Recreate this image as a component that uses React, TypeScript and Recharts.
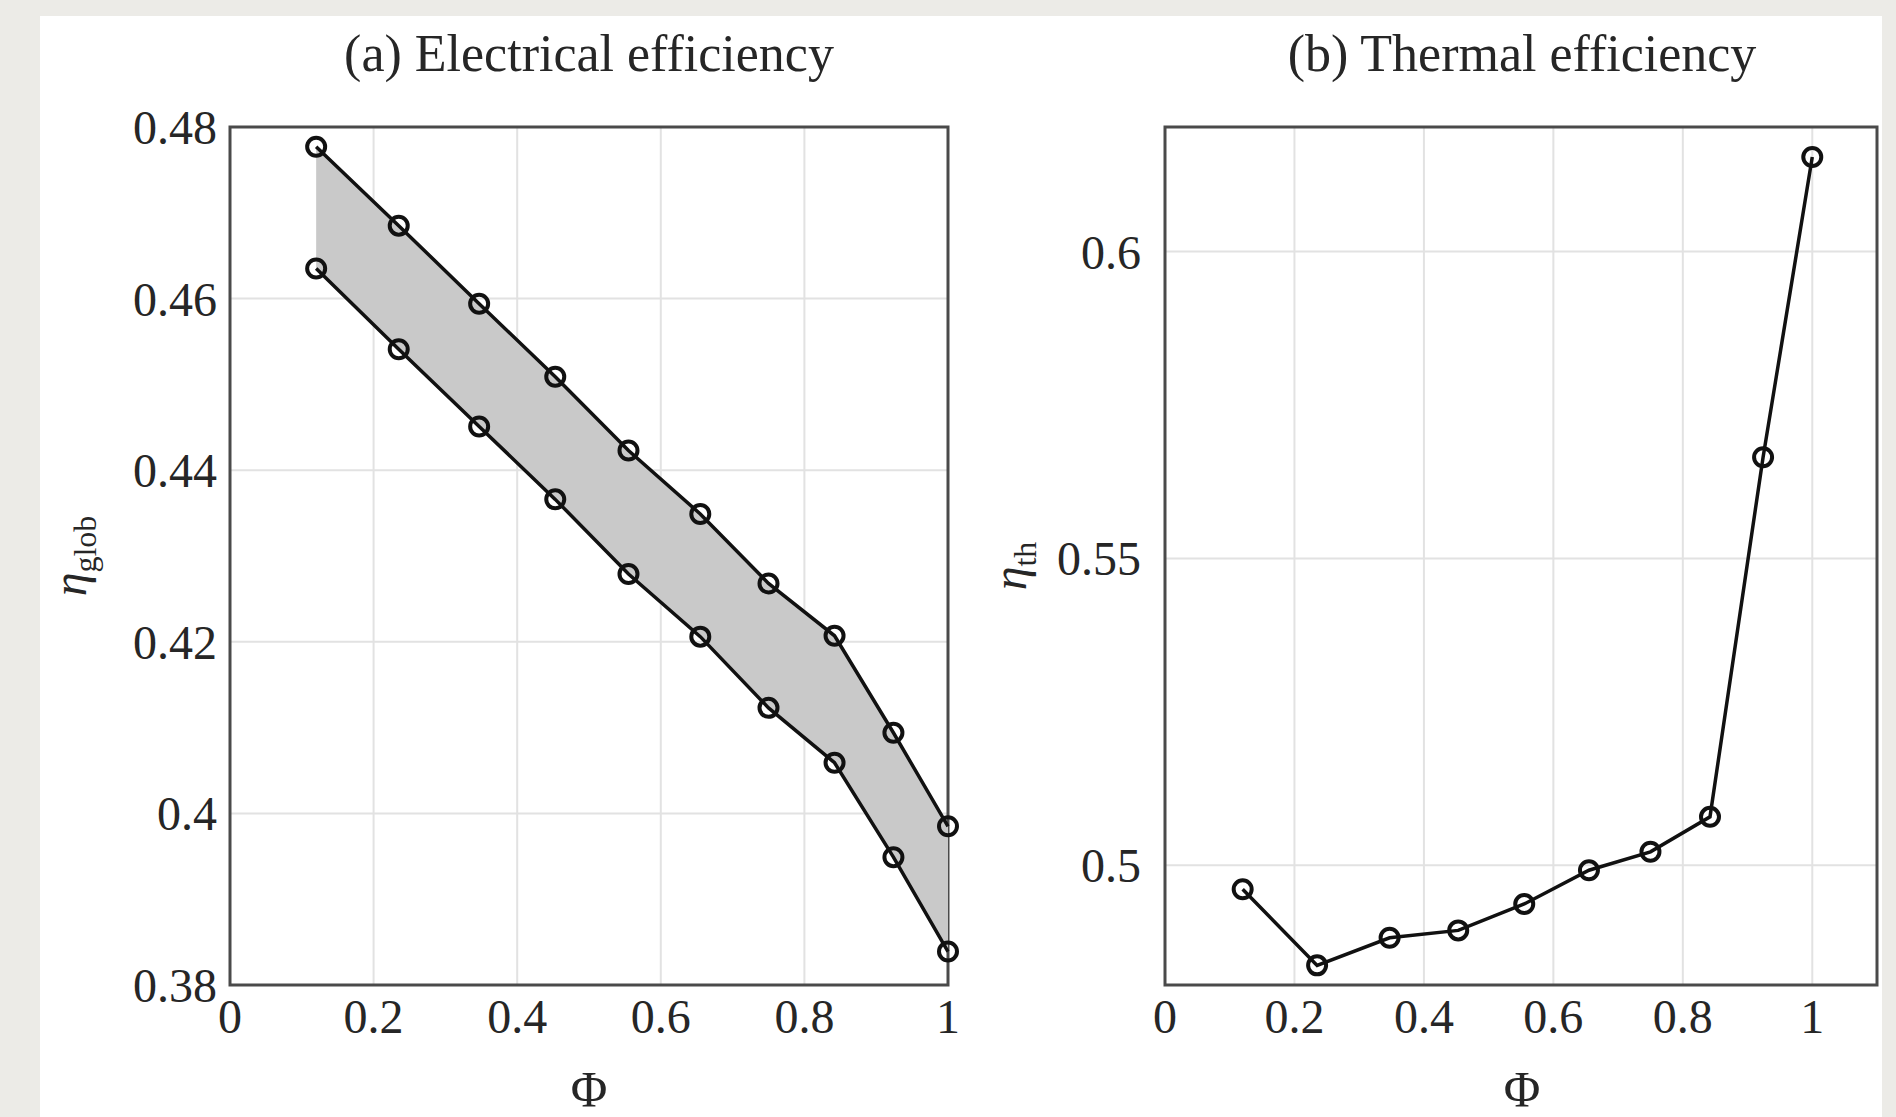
import {
  ComposedChart,
  Line,
  Area,
  XAxis,
  YAxis,
  CartesianGrid,
  ReferenceArea,
} from "recharts";

// load fraction Φ (shared by both panels)
const phi = [0.12, 0.235, 0.347, 0.453, 0.555, 0.655, 0.75, 0.842, 0.924, 1.0];
// (a) electrical efficiency bounds
const elecUpper = [0.4777, 0.4685, 0.4594, 0.4509, 0.4423, 0.4349, 0.4268, 0.4207, 0.4094, 0.3985];
const elecLower = [0.4635, 0.4541, 0.4451, 0.4366, 0.4279, 0.4206, 0.4123, 0.4059, 0.3949, 0.3839];
// (b) thermal efficiency
const thermal = [0.4961, 0.4837, 0.4882, 0.4894, 0.4937, 0.4992, 0.5022, 0.5079, 0.5665, 0.6154];

const phiTicks = [0, 0.2, 0.4, 0.6, 0.8, 1];
const elecTicks = [0.38, 0.4, 0.42, 0.44, 0.46, 0.48];
const thermalTicks = [0.5, 0.55, 0.6];

const elecData = phi.map((p, i) => ({
  phi: p,
  upper: elecUpper[i],
  lower: elecLower[i],
  band: [elecLower[i], elecUpper[i]],
}));
const thermalData = phi.map((p, i) => ({ phi: p, eta: thermal[i] }));

const SERIF = '"Liberation Serif", "Times New Roman", serif';
const TEXT = "#262626";
const tickStyle = { fill: TEXT, fontSize: 48, fontFamily: SERIF };
const dotStyle = { r: 9, stroke: "#111", strokeWidth: 4, fill: "none" };
const fmt = (v: number) => String(v);

function ElectricalChart() {
  return (
    <ComposedChart
      width={1000}
      height={1117}
      data={elecData}
      margin={{ top: 127, right: 52, bottom: 72, left: 110 }}
    >
      <CartesianGrid stroke="#e2e2e2" strokeWidth={2} />
      <XAxis
        type="number"
        dataKey="phi"
        domain={[0, 1]}
        ticks={phiTicks}
        tickFormatter={fmt}
        height={60}
        axisLine={false}
        tickLine={false}
        tickSize={0}
        tickMargin={14}
        tick={tickStyle}
      />
      <YAxis
        type="number"
        domain={[0.38, 0.48]}
        ticks={elecTicks}
        tickFormatter={fmt}
        width={120}
        axisLine={false}
        tickLine={false}
        tickSize={0}
        tickMargin={13}
        tick={tickStyle}
      />
      <ReferenceArea x1={0} x2={1} y1={0.38} y2={0.48} fill="none" stroke="#4a4a4a" strokeWidth={3} />
      <Area
        type="linear"
        dataKey="band"
        stroke="none"
        fill="#c9c9c9"
        fillOpacity={1}
        isAnimationActive={false}
      />
      <Line
        type="linear"
        dataKey="upper"
        stroke="#111"
        strokeWidth={3.5}
        dot={dotStyle}
        activeDot={false}
        isAnimationActive={false}
      />
      <Line
        type="linear"
        dataKey="lower"
        stroke="#111"
        strokeWidth={3.5}
        dot={dotStyle}
        activeDot={false}
        isAnimationActive={false}
      />
    </ComposedChart>
  );
}

function ThermalChart() {
  return (
    <ComposedChart
      width={896}
      height={1117}
      data={thermalData}
      margin={{ top: 127, right: 19, bottom: 72, left: 45 }}
    >
      <CartesianGrid stroke="#e2e2e2" strokeWidth={2} />
      <XAxis
        type="number"
        dataKey="phi"
        domain={[0, 1.1]}
        ticks={phiTicks}
        tickFormatter={fmt}
        height={60}
        axisLine={false}
        tickLine={false}
        tickSize={0}
        tickMargin={14}
        tick={tickStyle}
      />
      <YAxis
        type="number"
        domain={[0.4805, 0.6203]}
        ticks={thermalTicks}
        tickFormatter={fmt}
        width={120}
        axisLine={false}
        tickLine={false}
        tickSize={0}
        tickMargin={24}
        tick={tickStyle}
      />
      <ReferenceArea x1={0} x2={1.1} y1={0.4805} y2={0.6203} fill="none" stroke="#4a4a4a" strokeWidth={3} />
      <Line
        type="linear"
        dataKey="eta"
        stroke="#111"
        strokeWidth={3.5}
        dot={dotStyle}
        activeDot={false}
        isAnimationActive={false}
      />
    </ComposedChart>
  );
}

export default function App() {
  return (
    <div
      style={{
        position: "absolute",
        left: 0,
        top: 0,
        width: 1896,
        height: 1117,
        background: "#ecebe7",
        overflow: "hidden",
      }}
    >
      <div style={{ position: "absolute", left: 40, top: 16, width: 1842, height: 1101, background: "#fff" }} />
      <div style={{ position: "absolute", left: 0, top: 0 }}>
        <ElectricalChart />
      </div>
      <div style={{ position: "absolute", left: 1000, top: 0 }}>
        <ThermalChart />
      </div>
      <svg
        width={1896}
        height={1117}
        style={{ position: "absolute", left: 0, top: 0, pointerEvents: "none" }}
        fontFamily={SERIF}
        fill={TEXT}
      >
        <text x={589} y={71} fontSize={52} textAnchor="middle">(a) Electrical efficiency</text>
        <text x={1522} y={71} fontSize={52} textAnchor="middle">(b) Thermal efficiency</text>
        <text x={589} y={1106} fontSize={50} textAnchor="middle">Φ</text>
        <text x={1522} y={1106} fontSize={50} textAnchor="middle">Φ</text>
        <text x={86} y={556} fontSize={48} textAnchor="middle" transform="rotate(-90 86 556)">
          <tspan fontStyle="italic">η</tspan>
          <tspan fontSize={32} dy={10}>glob</tspan>
        </text>
        <text x={1026} y={566} fontSize={48} textAnchor="middle" transform="rotate(-90 1026 566)">
          <tspan fontStyle="italic">η</tspan>
          <tspan fontSize={32} dy={10}>th</tspan>
        </text>
      </svg>
    </div>
  );
}
